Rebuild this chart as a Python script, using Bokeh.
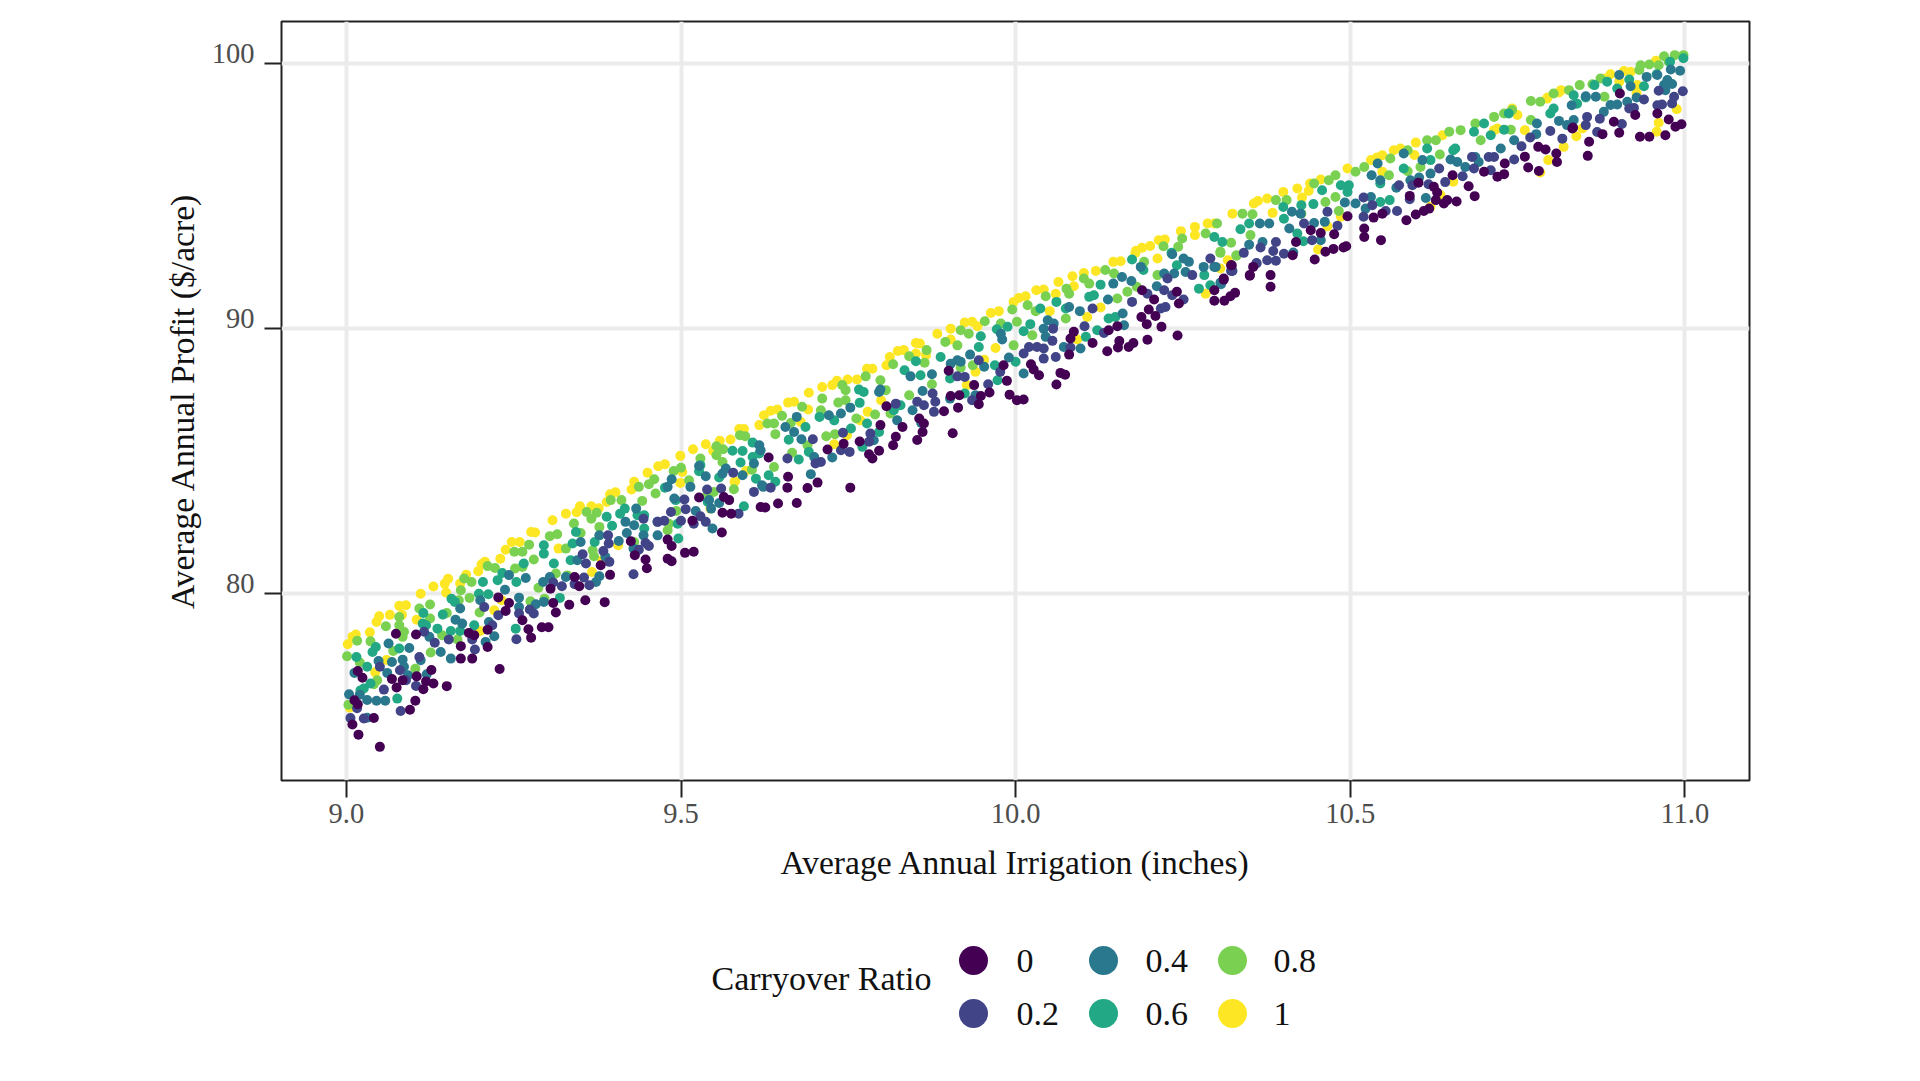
from bokeh.plotting import figure
from bokeh.embed import file_html
from bokeh.resources import INLINE
from bokeh.layouts import column
from bokeh.models import Range1d, FixedTicker
from bokeh.core.properties import value

FONT = "Liberation Serif"
x_title = "Average Annual Irrigation (inches)"
y_title = "Average Annual Profit ($/acre)"
legend_title = "Carryover Ratio"
x_ticks = [9.0, 9.5, 10.0, 10.5, 11.0]
x_tick_labels = ["9.0", "9.5", "10.0", "10.5", "11.0"]
y_ticks = [80, 90, 100]
y_tick_labels = ["80", "90", "100"]
ratio_labels = ["0", "0.2", "0.4", "0.6", "0.8", "1"]
ratio_colors = ["#440154", "#414487", "#2A788E", "#22A884", "#7AD151", "#FDE725"]

ratio_0 = [(9.074,78.50),(9.104,78.47),(9.017,77.09),(9.024,76.84),(9.012,75.99),(9.017,75.84),(9.009,75.07),(9.018,74.69),(9.050,74.23),(9.041,75.32),(9.095,75.63),(9.103,75.97),(9.115,76.40),(9.130,76.62),(9.119,76.70),(9.150,76.52),(9.127,77.13),(9.105,76.89),(9.075,76.47),(9.068,76.79),(9.084,76.74),(9.171,78.03),(9.171,77.56),(9.188,77.56),(9.211,78.0),(9.229,77.17),(9.183,78.53),(9.191,78.44),(9.211,78.65),(9.227,79.87),(9.238,79.36),(9.243,79.66),(9.263,79.01),(9.272,78.67),(9.276,78.35),(9.292,78.74),(9.302,78.74),(9.309,79.66),(9.313,79.30),(9.333,79.59),(9.357,79.76),(9.386,79.69),(9.305,80.20),(9.341,80.64),(9.348,80.29),(9.394,80.72),(9.447,81.30),(9.431,81.46),(9.449,80.97),(9.480,81.33),(9.486,81.23),(9.506,81.55),(9.519,81.59),(9.480,82.05),(9.486,81.81),(9.561,82.32),(9.425,81.99),(9.527,83.64),(9.564,83.66),(9.572,83.54),(9.517,82.76),(9.562,83.06),(9.575,83.03),(9.619,83.28),(9.380,81.08),
(9.626,83.26),(9.645,83.41),(9.673,83.43),(9.659,84.01),(9.689,84.0),(9.704,84.20),(9.753,84.01),(9.660,84.42),(9.631,85.15),(9.719,85.45),(9.743,85.67),(9.767,85.75),(9.781,85.27),(9.786,85.11),(9.796,85.40),(9.817,85.61),(9.821,85.93),(9.853,85.81),(9.861,86.11),(9.906,86.06),(9.831,86.30),(9.798,86.37),(9.807,87.08),(9.863,86.43),(9.856,86.62),(9.893,86.89),(9.914,87.03),(9.945,87.16),(9.903,87.47),(9.916,87.50),(9.900,88.42),(9.938,87.88),(9.948,87.47),(9.961,87.60),(9.991,87.52),(10.002,87.31),(10.012,87.34),(9.982,88.63),(9.987,88.04),(10.023,88.67),(10.027,88.47),(10.035,88.25),(10.061,87.90),(10.067,88.34),(10.074,88.27),(10.080,89.03),(10.087,89.89),(10.082,89.64),(10.115,89.47),(10.137,89.16),(10.153,89.30),(10.155,89.54),(10.169,89.32),(10.176,89.47),(10.197,89.59),(10.218,90.08),(10.242,89.75),(10.196,90.18),(10.188,90.45),(10.209,90.49),(10.199,90.73),(10.207,91.11),(10.189,91.46),(10.139,89.95),(10.152,90.10),(10.322,92.40),(10.350,92.03),(10.311,91.86),(10.241,91.40),(10.244,90.96),
(10.297,91.06),(10.312,91.06),(10.321,91.23),(10.328,91.36),(10.381,91.59),(10.381,92.03),(10.350,92.01),(10.355,92.34),(10.323,92.40),(10.311,91.90),(10.297,91.46),(10.447,92.62),(10.463,92.91),(10.475,93.02),(10.490,93.07),(10.494,93.12),(10.521,93.47),(10.546,93.35),(10.521,93.79),(10.496,94.25),(10.535,94.20),(10.548,94.35),(10.584,94.10),(10.598,94.32),(10.610,94.45),(10.618,94.54),(10.640,94.73),(10.659,94.81),(10.686,95.01),(10.645,94.86),(10.628,94.86),(10.677,95.38),(10.653,95.80),(10.625,95.36),(10.630,95.15),(10.602,95.52),(10.589,95.02),(10.720,95.74),(10.700,95.93),(10.730,95.84),(10.731,96.24),(10.761,96.50),(10.766,96.09),(10.782,95.96),(10.781,96.87),(10.792,96.77),(10.808,96.62),(10.809,96.30),(10.855,96.53),(10.857,97.06),(10.832,97.56),(10.419,93.28),(10.441,93.72),(10.476,93.57),(10.456,93.62),(10.414,92.78),
(10.877,97.35),(10.902,97.4),(10.894,97.82),(10.933,97.25),(10.947,97.25),(10.971,97.31),(10.976,97.90),(10.986,97.63),(10.995,97.72),(10.959,98.13),(10.926,98.07),(10.903,98.88),(10.833,97.60)]

ratio_2 = [(9.006,75.32),(9.016,75.69),(9.026,75.30),(9.081,75.58),(9.056,76.39),(9.089,76.74),(9.104,76.53),(9.050,77.25),(9.080,77.12),(9.109,77.62),(9.116,78.57),(9.132,78.16),(9.153,78.28),(9.188,78.28),(9.192,77.90),(9.218,78.82),(9.227,79.2),(9.254,78.29),(9.258,79.26),(9.280,79.26),(9.274,79.41),(9.309,80.43),(9.322,80.29),(9.341,80.37),(9.355,80.62),(9.363,80.33),(9.358,81.15),(9.353,81.50),(9.384,81.62),(9.392,81.90),(9.391,82.21),(9.393,81.21),(9.429,80.74),(9.452,81.81),(9.437,81.67),(9.447,81.92),(9.444,82.84),(9.465,82.72),(9.475,82.76),(9.500,82.76),(9.485,83.09),(9.507,83.2),(9.505,83.56),(9.519,82.65),(9.529,82.93),(9.537,82.72),(9.539,83.94),(9.560,83.98),(9.586,83.03),(9.609,83.85),(9.206,79.51),(9.578,84.57),
(9.634,84.01),(9.659,85.11),(9.697,85.84),(9.701,84.92),(9.709,84.98),(9.739,85.42),(9.752,85.36),(9.742,86.08),(9.781,85.74),(9.783,86.05),(9.821,87.18),(9.853,87.25),(9.863,87.12),(9.878,86.87),(9.880,87.25),(9.876,87.56),(9.913,88.21),(9.924,88.19),(9.945,88.82),(9.935,87.31),(9.959,87.91),(9.977,88.38),(10.012,89.07),(10.020,89.32),(10.032,89.32),(10.042,89.26),(10.042,88.88),(10.060,88.94),(10.055,89.55),(10.056,90.01),(10.132,89.85),(10.082,89.30),(10.103,90.10),(10.115,90.77),(10.174,91.02),(10.197,91.33),(10.222,91.46),(10.217,90.77),(10.224,90.83),(10.234,91.27),(10.251,91.11),(10.227,91.9),(10.264,92.03),(10.291,92.66),(10.322,92.19),(10.360,92.47),
(10.376,92.59),(10.389,92.57),(10.401,92.84),(10.385,92.94),(10.389,93.28),(10.366,93.07),(10.341,92.87),(10.360,92.49),(10.324,92.19),(10.443,93.35),(10.431,93.98),(10.481,93.89),(10.466,94.42),(10.520,94.23),(10.553,94.45),(10.570,94.45),(10.520,94.96),(10.533,94.67),(10.589,94.89),(10.573,95.42),(10.593,95.42),(10.617,95.46),(10.633,96.05),(10.642,95.54),(10.668,95.76),(10.682,96.49),(10.685,96.05),(10.707,96.49),(10.715,96.49),(10.710,95.99),(10.745,96.39),(10.756,96.89),(10.769,97.22),(10.799,97.47),(10.817,97.18),(10.854,98.0),(10.852,97.69),(10.869,97.43),
(10.873,97.93),(10.906,97.73),(10.917,98.32),(10.924,98.34),(10.939,98.66),(10.959,98.44),(10.966,98.47),(10.981,98.51),(10.984,98.76),(10.997,98.97),(10.961,98.99)]

ratio_4 = [(9.004,76.21),(9.012,77.02),(9.031,75.33),(9.031,76.0),(9.045,75.97),(9.058,75.97),(9.020,76.2),(9.063,78.13),(9.048,77.47),(9.068,77.43),(9.061,77.02),(9.084,77.52),(9.086,77.25),(9.092,76.93),(9.094,77.96),(9.111,77.5),(9.124,78.38),(9.120,76.97),(9.141,77.81),(9.156,77.56),(9.163,79.03),(9.170,79.45),(9.173,78.88),(9.208,78.19),(9.221,78.4),(9.213,78.94),(9.200,79.76),(9.237,80.16),(9.243,80.71),(9.258,79.86),(9.258,79.51),(9.283,79.61),(9.295,79.7),(9.268,80.6),(9.294,80.45),(9.304,80.64),(9.328,80.64),(9.345,81.27),(9.350,81.96),(9.378,82.21),(9.387,81.4),(9.378,80.67),(9.373,80.45),(9.417,82.72),(9.419,82.3),(9.429,81.71),(9.407,82.0),(9.465,82.72),(9.444,82.21),(9.465,82.21),(9.433,83.22),(9.430,82.59),(9.522,83.13),(9.545,83.22),(9.547,82.47),(9.514,84.04),(9.480,84.04),(9.542,83.54),(9.557,83.43),(9.490,83.6),(9.621,84.1),
(9.537,84.44),(9.562,84.54),(9.567,84.73),(9.592,84.48),(9.617,85.61),(9.609,84.92),(9.486,84.33),(9.527,84.83),(9.619,85.42),
(9.623,84.04),(9.694,84.52),(9.699,85.17),(9.726,85.15),(9.788,85.8),(9.823,86.55),(9.859,86.45),(9.846,86.93),(9.861,87.66),(9.875,88.29),(9.843,88.21),(9.798,87.71),(9.796,87.62),(9.739,86.81),(9.721,86.74),(9.753,87.03),(9.669,86.11),(9.680,85.84),(9.673,86.68),(9.656,86.3),(9.902,87.37),(9.932,89.03),(9.913,88.82),(9.903,88.69),(9.918,88.76),(9.953,88.57),(9.940,87.5),(10.012,88.32),(9.990,88.92),(9.980,89.6),(9.978,89.82),(10.042,90.01),(10.045,89.7),(10.072,89.32),(10.097,89.26),(10.048,90.33),(10.057,90.2),(10.080,90.83),(10.096,90.67),(10.162,90.14),(10.160,90.58),(10.138,91.11),(10.146,91.71),(10.159,91.96),(10.173,91.81),(10.211,91.61),(10.187,92.34),(10.222,92.09),(10.237,92.09),(10.254,92.15),(10.259,92.53),(10.281,92.34),(10.299,92.34),(10.306,91.74),(10.251,92.66),(10.234,92.82),
(10.307,91.69),(10.297,92.34),(10.369,93.28),(10.349,93.18),(10.415,92.88),(10.456,93.35),(10.446,94.0),(10.462,94.04),(10.409,93.79),(10.379,93.98),(10.365,93.98),(10.413,94.42),(10.426,94.35),(10.492,94.77),(10.508,94.73),(10.523,94.54),(10.531,94.98),(10.532,95.8),(10.545,95.61),(10.541,96.24),(10.569,95.33),(10.590,95.61),(10.603,95.71),(10.613,94.94),(10.620,95.86),(10.580,96.62),(10.608,96.37),(10.650,96.39),(10.660,96.30),(10.672,96.11),(10.687,96.49),(10.692,96.30),(10.725,96.81),(10.745,97.12),(10.778,97.35),(10.779,97.75),(10.812,97.85),(10.831,98.44),(10.852,98.78),(10.824,97.69),(10.834,97.88),(10.867,98.76),
(10.879,98.19),(10.889,98.45),(10.899,98.47),(10.914,98.57),(10.928,98.73),(10.919,99.16),(10.943,99.51),(10.969,99.2),(10.974,99.39),(10.981,99.24),(10.993,99.74),(10.979,99.79),(10.971,99.01),(10.902,99.58),(10.959,99.58)]

ratio_6 = [(9.026,76.43),(9.036,76.62),(9.021,76.36),(9.076,76.05),(9.015,77.62),(9.031,77.25),(9.039,77.81),(9.044,78.0),(9.079,77.94),(9.115,79.28),(9.114,78.88),(9.136,78.69),(9.119,78.82),(9.144,79.22),(9.156,78.6),(9.170,78.6),(9.157,79.82),(9.162,79.7),(9.191,78.82),(9.198,80.01),(9.212,79.99),(9.204,80.45),(9.233,80.79),(9.226,80.52),(9.254,80.45),(9.253,78.69),(9.319,79.85),(9.265,81.15),(9.310,81.15),(9.295,81.84),(9.295,81.52),(9.338,81.9),(9.343,82.34),(9.335,81.27),(9.371,81.96),(9.389,82.91),(9.397,82.57),(9.409,83.03),(9.416,83.22),(9.435,82.97),(9.445,82.97),(9.445,82.47),(9.496,82.09),(9.495,82.65),(9.492,83.54),(9.540,83.47),(9.594,83.31),(9.476,84.01),
(9.527,84.63),(9.529,84.86),(9.577,85.40),(9.592,85.39),(9.589,84.96),(9.607,85.71),(9.557,84.39),(9.612,84.35),(9.617,85.3),(9.607,85.17),
(9.641,84.23),(9.631,84.48),(9.676,85.07),(9.691,85.36),(9.771,85.55),(9.796,86.11),(9.778,86.43),(9.754,86.24),(9.729,86.55),(9.707,86.68),(9.686,86.3),(9.661,85.82),(9.767,87.21),(9.766,87.71),(9.773,87.62),(9.818,86.93),(9.828,87.12),(9.834,88.44),(9.851,88.78),(9.858,88.25),(9.902,88.13),(9.888,88.94),(9.945,89.32),(9.948,89.72),(9.973,88.06),(9.969,88.63),(10.0,88.76),(9.924,87.56),(10.012,89.91),(10.022,90.18),(10.037,90.77),(9.988,90.08),(9.972,89.99),(10.061,91.02),(10.075,90.77),(10.105,89.7),(10.122,89.95),(10.139,90.39),(10.149,90.45),(10.127,91.67),(10.110,91.21),(10.117,91.27),(10.191,92.22),(10.174,92.62),(10.241,92.4),(10.274,91.52),(10.291,91.65),(10.233,92.87),
(10.282,92.03),(10.297,93.47),(10.309,93.28),(10.336,93.76),(10.349,93.98),(10.401,94.16),(10.421,93.6),(10.430,93.31),(10.400,94.6),(10.427,94.67),(10.445,94.71),(10.458,95.23),(10.486,95.42),(10.498,95.42),(10.496,95.17),(10.545,95.49),(10.545,94.79),(10.559,94.86),(10.580,96.05),(10.615,96.81),(10.620,96.37),(10.654,96.74),(10.657,96.81),(10.685,97.44),(10.710,97.31),(10.700,97.75),(10.730,97.52),(10.737,98.13),(10.799,98.13),(10.804,98.32),(10.839,98.5),(10.834,98.82),
(10.852,98.73),(10.884,99.33),(10.899,99.07),(10.939,99.16),(10.978,100.08),(10.998,100.21),(10.917,99.41),(10.958,99.61),(10.865,99.2)]

ratio_8 = [(9.003,75.82),(9.001,77.65),(9.016,78.23),(9.020,77.41),(9.036,78.21),(9.046,76.74),(9.041,76.59),(9.059,78.78),(9.079,79.13),(9.079,78.82),(9.086,78.57),(9.084,78.38),(9.070,77.85),(9.103,77.18),(9.109,79.45),(9.125,79.6),(9.125,79.07),(9.126,77.79),(9.143,78.44),(9.150,79.28),(9.166,78.28),(9.168,79.76),(9.171,80.14),(9.184,79.85),(9.187,80.45),(9.176,80.58),(9.199,79.3),(9.211,81.05),(9.222,80.98),(9.252,80.96),(9.263,81.02),(9.251,81.59),(9.263,81.59),(9.273,81.86),(9.280,81.3),(9.275,79.72),(9.296,79.82),(9.287,80.23),(9.304,82.18),(9.315,82.25),(9.328,81.71),(9.313,80.77),(9.330,80.7),(9.340,82.66),(9.350,82.3),(9.359,83.09),(9.374,83.06),(9.366,82.84),(9.368,81.65),(9.370,81.42),(9.378,82.53),(9.395,83.54),(9.411,83.54),(9.430,81.96),(9.437,84.04),(9.442,83.51),(9.452,84.14),(9.462,83.79),(9.493,83.13),(9.482,82.65),(9.480,82.4),(9.537,83.66),(9.549,83.85),(9.579,83.95),
(9.460,84.33),(9.489,84.64),(9.500,84.76),(9.529,85.11),(9.553,85.57),(9.563,85.46),(9.553,85.23),(9.562,84.98),(9.588,85.99),(9.596,85.95),(9.606,84.69),(9.512,84.29),
(9.666,85.33),(9.639,84.79),(9.689,85.61),(9.717,85.95),(9.730,86.03),(9.762,86.62),(9.790,86.77),(9.641,86.03),(9.629,86.43),(9.639,86.43),(9.651,86.72),(9.664,86.45),(9.681,87.06),(9.709,86.93),(9.711,87.37),(9.735,87.22),(9.746,87.31),(9.741,87.88),(9.746,87.69),(9.776,88.21),(9.798,88.06),(9.806,87.69),(9.813,86.81),(9.841,87.5),(9.817,88.67),(9.841,88.97),(9.864,88.72),(9.867,89.2),(9.875,87.91),(9.918,88.54),(9.936,88.63),(9.895,89.51),(9.913,89.38),(9.918,89.95),(9.930,89.82),(9.954,90.29),(9.978,90.2),(9.997,89.38),(10.025,89.76),(10.002,90.27),(9.995,90.73),(10.018,90.89),(10.030,90.67),(10.045,91.23),(10.075,90.39),(10.080,91.33),(10.076,91.52),(10.102,91.9),(10.110,91.71),(10.134,92.22),(10.147,92.09),(10.152,91.15),(10.167,91.4),(10.181,91.59),(10.212,92.03),(10.192,92.53),(10.306,92.87),(10.330,92.78),(10.221,93.12),(10.249,93.41),(10.243,93.1),
(10.284,93.6),(10.301,93.98),(10.322,93.25),(10.330,92.76),(10.306,92.91),(10.351,93.54),(10.339,94.35),(10.354,94.33),(10.389,94.86),(10.405,94.86),(10.427,94.35),(10.463,94.79),(10.478,94.98),(10.483,94.45),(10.468,95.61),(10.478,95.8),(10.446,95.49),(10.508,95.93),(10.521,96.11),(10.558,95.8),(10.586,95.95),(10.605,96.11),(10.634,96.58),(10.560,96.43),(10.586,96.74),(10.615,97.12),(10.628,97.12),(10.648,97.44),(10.665,97.5),(10.695,97.12),(10.687,97.75),(10.715,98.0),(10.740,97.52),(10.770,98.6),(10.784,98.57),(10.804,98.88),(10.843,99.2),(10.862,99.23),
(10.827,99.01),(10.874,99.45),(10.880,98.76),(10.934,99.95),(10.947,99.98),(10.961,99.95),(10.969,100.29),(10.985,100.33),(10.998,100.33),(10.976,100.08),(10.932,99.77),(10.770,97.88),(10.742,98.26),(10.730,98.13)]

ratio_10 = [(9.002,78.1),(9.009,78.38),(9.014,78.47),(9.035,78.55),(9.045,78.94),(9.049,79.16),(9.065,79.21),(9.079,79.55),(9.089,79.57),(9.083,79.21),(9.105,79.03),(9.111,80.01),(9.130,80.28),(9.147,80.39),(9.152,80.57),(9.149,80.05),(9.170,80.39),(9.179,80.72),(9.197,80.86),(9.202,81.12),(9.207,81.21),(9.230,81.33),(9.238,81.67),(9.247,81.96),(9.259,81.96),(9.276,82.34),(9.282,82.32),(9.308,82.78),(9.328,83.03),(9.317,81.71),(9.344,83.08),(9.349,83.31),(9.366,83.31),(9.377,83.23),(9.389,83.47),(9.394,83.76),(9.402,83.84),(9.426,83.94),(9.430,84.23),(9.499,84.19),(9.406,81.84),(9.060,77.51),(9.043,77.04),(9.005,75.71),(9.232,79.76),(9.200,78.6),(9.221,79.38),(9.382,81.27),(9.367,80.83),(9.544,83.22),(9.580,84.23),
(9.450,84.57),(9.466,84.82),(9.476,84.89),(9.499,85.21),(9.502,84.6),(9.518,85.46),(9.537,85.65),(9.558,85.78),(9.548,85.40),(9.574,85.83),(9.587,86.22),(9.594,86.22),(9.581,84.25),(9.597,84.64),(9.617,86.37),
(9.624,86.74),(9.634,86.91),(9.644,86.96),(9.660,87.22),(9.669,87.25),(9.691,87.59),(9.711,87.81),(9.726,87.88),(9.733,88.04),(9.749,88.09),(9.763,88.09),(9.778,88.5),(9.786,88.5),(9.807,88.63),(9.812,88.94),(9.824,89.17),(9.833,89.2),(9.851,89.47),(9.857,89.45),(9.851,89.07),(9.866,89.01),(9.883,89.82),(9.903,90.01),(9.903,89.6),(9.924,90.24),(9.935,90.27),(9.943,90.1),(9.963,90.6),(9.975,90.67),(9.997,91.02),(10.005,91.17),(10.015,91.23),(10.031,91.46),(10.042,91.49),(10.060,91.33),(10.064,91.77),(10.051,90.67),(10.085,91.99),(10.087,91.61),(10.102,92.11),(10.120,92.19),(10.146,92.53),(10.157,92.55),(10.179,92.87),(10.212,92.66),(10.127,90.81),(10.107,90.45),(10.092,89.6),(9.970,89.28),(9.940,88.38),(9.927,87.88),(9.953,88.84),(9.729,85.65),(9.779,86.87),(9.768,86.55),(9.679,86.49),(9.690,86.96),(9.799,87.31),(9.748,85.99),
(10.180,92.95),(10.189,93.06),(10.201,93.13),(10.214,93.35),(10.223,93.37),(10.247,93.69),(10.268,93.85),(10.268,93.54),
(10.284,91.33),(10.306,92.28),(10.317,92.59),(10.287,93.98),(10.297,93.98),(10.324,94.35),(10.356,94.73),(10.362,94.83),(10.376,94.92),(10.384,94.38),(10.400,95.17),(10.421,95.3),(10.428,94.96),(10.440,95.49),(10.438,95.21),(10.456,95.64),(10.496,96.05),(10.486,94.23),(10.452,93.0),(10.466,93.87),(10.531,96.37),(10.540,96.47),(10.548,96.55),(10.565,96.74),(10.575,96.81),(10.548,95.93),(10.638,97.31),(10.715,97.5),(10.742,98.32),(10.794,98.69),(10.812,98.92),
(10.598,97.03),(10.596,96.56),(10.620,94.61),(10.635,95.05),(10.654,95.55),(10.720,97.56),(10.750,98.07),(10.761,97.5),(10.784,95.9),(10.796,96.37),(10.819,96.87),(10.838,97.27),(10.847,97.56),(10.795,98.73),(10.815,99.01),(10.882,99.45),(10.902,99.33),(10.909,99.73),(10.919,99.7),(10.929,99.2),(10.928,98.89),(10.957,100.12),(10.988,98.29),(10.961,97.78),(10.958,97.44),(10.889,99.61)]

series = [ratio_0, ratio_2, ratio_4, ratio_6, ratio_8, ratio_10]

p = figure(width=1904, height=905, output_backend="svg", toolbar_location=None,
           x_range=Range1d(8.903, 11.0967), y_range=Range1d(72.96, 101.6),
           frame_width=1468, frame_height=759, min_border_left=281, min_border_right=155,
           min_border_top=21, min_border_bottom=125)
p.background_fill_color = "white"
p.border_fill_color = "white"
p.outline_line_color = "#222222"
p.outline_line_width = 2

for g in (p.xgrid[0], p.ygrid[0]):
    g.grid_line_color = "#EBEBEB"
    g.grid_line_width = 4
p.xgrid[0].ticker = FixedTicker(ticks=x_ticks)
p.ygrid[0].ticker = FixedTicker(ticks=y_ticks)

xa, ya = p.xaxis[0], p.yaxis[0]
xa.ticker = FixedTicker(ticks=x_ticks)
xa.major_label_overrides = {t: l for t, l in zip(x_ticks, x_tick_labels)}
xa.axis_label = x_title
ya.axis_label = y_title
for a in (xa, ya):
    a.axis_line_color = None
    a.major_tick_line_color = "#222222"
    a.major_tick_line_width = 2
    a.major_tick_out = 17
    a.major_tick_in = 0
    a.minor_tick_line_color = None
    a.major_label_text_font = FONT
    a.major_label_text_font_size = "28.5px"
    a.major_label_text_color = "#4d4d4d"
    a.axis_label_text_font = FONT
    a.axis_label_text_font_size = "33.6px"
    a.axis_label_text_font_style = "normal"
    a.axis_label_text_color = "#111111"
xa.major_label_standoff = 6
xa.axis_label_standoff = 18

# The reference's y tick labels sit about 10 px above their ticks: the marks are drawn
# as the axis's minor ticks at the true values, the labels hang on majors nudged upward.
label_nudge = 10 / 26.5
label_positions = [t + label_nudge for t in y_ticks]
ya.ticker = FixedTicker(ticks=label_positions, minor_ticks=y_ticks)
ya.major_label_overrides = {t: l for t, l in zip(label_positions, y_tick_labels)}
ya.major_tick_line_color = None
ya.major_tick_out = 0
ya.major_label_standoff = 10
ya.minor_tick_line_color = "#222222"
ya.minor_tick_line_width = 2
ya.minor_tick_out = 17
ya.minor_tick_in = 0
ya.axis_label_standoff = 8

# draw from high ratio to low ratio, as in the picture
for pts, col in reversed(list(zip(series, ratio_colors))):
    xs, ys = zip(*pts)
    p.scatter(list(xs), list(ys), size=10, fill_color=col, line_color=None)

# legend panel: shares the main frame's horizontal extent; its ranges are page pixels
lg = figure(width=1904, height=160, output_backend="svg", toolbar_location=None,
            x_range=Range1d(281, 1749), y_range=Range1d(160, 0),
            frame_width=1468, frame_height=160,
            min_border_left=281, min_border_right=155, min_border_top=0, min_border_bottom=0,
            outline_line_color=None, x_axis_type=None, y_axis_type=None)
lg.grid.visible = False
key_x = [973, 973, 1103, 1103, 1232, 1232]
key_y = [55, 108, 55, 108, 55, 108]
text_x = [1016, 1016, 1145, 1145, 1273, 1273]
lg.scatter(key_x, key_y, size=29, fill_color=ratio_colors, line_color=None)
lg.text(text_x, key_y, text=ratio_labels, text_align="left", text_baseline="middle",
        text_font=value(FONT), text_font_size="34px", text_color="#111111")
lg.text([711], [73], text=[legend_title], text_align="left", text_baseline="middle",
        text_font=value(FONT), text_font_size="34px", text_color="#111111")

page = column(p, lg, spacing=0)
open("out.html", "w").write(file_html(page, INLINE))
